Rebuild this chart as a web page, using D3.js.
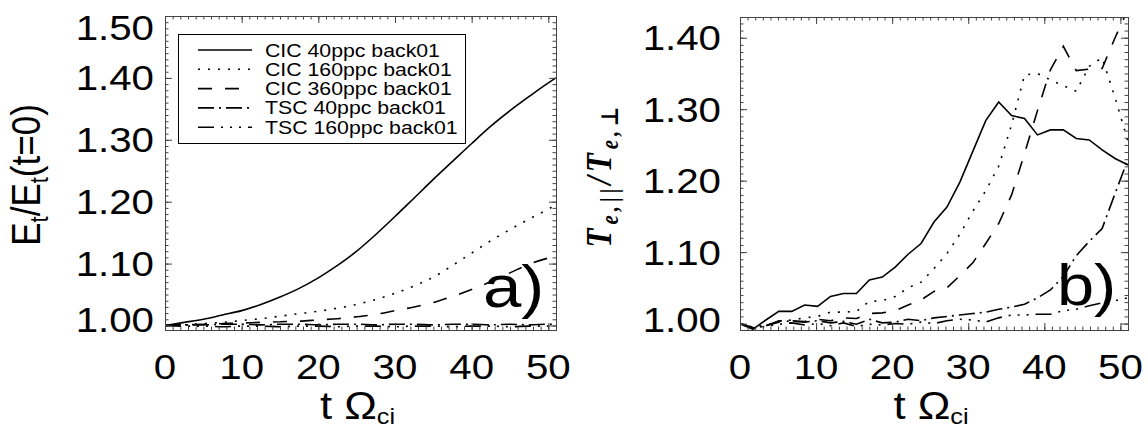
<!DOCTYPE html>
<html>
<head>
<meta charset="utf-8">
<script src="https://cdn.jsdelivr.net/npm/d3@7"></script>
<style>
  body { margin: 0; background: #fff; }
  svg { display: block; }
  text { font-family: "Liberation Sans", Arial, Helvetica, sans-serif; fill: #000; }
</style>
</head>
<body>
<svg id="chart" width="1148" height="426"></svg>
<script>
// ---- Panel a): total energy normalised to its initial value ----
const tEnergy = [0, 2.5, 5, 7.5, 10, 12.5, 15, 17.5, 20, 22.5, 25, 27.5, 30, 32.5, 35, 37.5, 40, 42.5, 45, 47.5, 50, 51];
const energyCIC40  = [1.000, 1.005, 1.010, 1.017, 1.024, 1.034, 1.046, 1.060, 1.077, 1.097, 1.120, 1.147, 1.176, 1.206, 1.236, 1.265, 1.294, 1.322, 1.347, 1.370, 1.392, 1.400];
const energyCIC160 = [1.000, 1.001, 1.003, 1.005, 1.008, 1.011, 1.015, 1.019, 1.023, 1.028, 1.034, 1.042, 1.052, 1.064, 1.078, 1.097, 1.117, 1.137, 1.155, 1.172, 1.188, 1.195];
const energyCIC360 = [1.000, 1.001, 1.002, 1.003, 1.004, 1.005, 1.006, 1.007, 1.009, 1.011, 1.014, 1.018, 1.024, 1.030, 1.037, 1.047, 1.058, 1.071, 1.085, 1.099, 1.109, 1.112];
const energyTSC40  = [1.000, 1.001, 1.001, 1.002, 1.002, 1.001, 1.002, 1.002, 1.001, 1.002, 1.002, 1.001, 1.002, 1.002, 1.001, 1.002, 1.002, 1.001, 1.002, 1.001, 1.002, 1.002];
const energyTSC160 = [1.000, 0.999, 0.999, 0.998, 0.999, 0.999, 0.998, 0.999, 0.999, 0.998, 0.999, 0.999, 0.998, 0.999, 0.999, 0.998, 0.999, 0.999, 0.998, 0.999, 0.999, 0.999];

// ---- Panel b): electron temperature anisotropy ----
const tAniso = [0, 1.7, 3.4, 5.1, 6.8, 8.5, 10.2, 11.9, 13.6, 15.3, 17.0, 18.7, 20.4, 22.1, 23.8, 25.5, 27.2, 28.9, 30.6, 32.3, 34.0, 35.7, 37.4, 39.1, 40.8, 42.5, 44.2, 45.9, 47.6, 49.3, 51.0];
const anisoCIC40  = [1.000, 0.992, 1.005, 1.017, 1.017, 1.026, 1.024, 1.038, 1.042, 1.042, 1.061, 1.065, 1.079, 1.097, 1.112, 1.142, 1.163, 1.198, 1.241, 1.284, 1.310, 1.291, 1.287, 1.264, 1.271, 1.271, 1.259, 1.257, 1.243, 1.231, 1.222];
const anisoCIC160 = [1.000, 0.995, 0.998, 1.003, 1.005, 1.008, 1.010, 1.016, 1.016, 1.017, 1.031, 1.032, 1.038, 1.050, 1.058, 1.077, 1.098, 1.125, 1.157, 1.186, 1.220, 1.278, 1.348, 1.350, 1.341, 1.333, 1.325, 1.360, 1.372, 1.316, 1.255];
const anisoCIC360 = [1.000, 0.994, 0.997, 1.002, 1.004, 1.003, 1.006, 1.004, 1.008, 1.007, 1.014, 1.015, 1.018, 1.026, 1.033, 1.045, 1.050, 1.067, 1.085, 1.112, 1.140, 1.180, 1.238, 1.298, 1.355, 1.388, 1.354, 1.356, 1.357, 1.400, 1.440];
const anisoTSC40  = [1.000, 0.993, 0.997, 1.004, 1.003, 1.002, 1.004, 1.001, 1.003, 0.999, 1.006, 1.001, 1.002, 1.006, 1.004, 1.008, 1.010, 1.012, 1.014, 1.016, 1.020, 1.023, 1.027, 1.036, 1.047, 1.066, 1.095, 1.115, 1.133, 1.182, 1.230];
const anisoTSC160 = [1.000, 0.994, 0.996, 0.999, 1.001, 0.998, 1.000, 0.997, 1.001, 0.996, 0.999, 0.998, 1.000, 0.999, 1.002, 1.000, 1.004, 1.006, 1.005, 1.002, 1.008, 1.012, 1.012, 1.013, 1.013, 1.018, 1.020, 1.025, 1.029, 1.032, 1.036];

const runLabels = ["CIC 40ppc back01", "CIC 160ppc back01", "CIC 360ppc back01", "TSC 40ppc back01", "TSC 160ppc back01"];
const lineDashes = [null, "2,8", "14,13", "16,5,2,5", "16,7,2,7,2,7,2,7"];
const timeTicks = [0, 10, 20, 30, 40, 50];
const energyTicks = [1.0, 1.1, 1.2, 1.3, 1.4, 1.5];
const anisoTicks = [1.0, 1.1, 1.2, 1.3, 1.4];

const svg = d3.select("#chart");
svg.append("rect").attr("width", 1148).attr("height", 426).attr("fill", "#fff");

const SX = 1.15;            // wide glyph proportions of the figure lettering
const axisColor = "#444";
const fmt = d3.format(".2f");

function label(parent, x, y, str, size, anchor, extra) {
  const t = parent.append("text")
    .attr("transform", `translate(${x},${y}) scale(${SX},1)${extra || ""}`)
    .attr("font-size", size)
    .attr("text-anchor", anchor || "start");
  if (str !== null) t.text(str);
  return t;
}

function drawPanel(cfg) {
  const x = d3.scaleLinear().domain([0, 51]).range([cfg.left, cfg.right]);
  const y = d3.scaleLinear().domain(cfg.yDomain).range([cfg.bottom, cfg.top]);
  const g = svg.append("g");

  const clipId = "clip-" + cfg.id;
  svg.append("clipPath").attr("id", clipId).append("rect")
    .attr("x", cfg.left).attr("y", cfg.top)
    .attr("width", cfg.right - cfg.left).attr("height", cfg.bottom - cfg.top);

  const line = d3.line().x(d => x(d[0])).y(d => y(d[1])).curve(cfg.curve);
  const lines = g.append("g").attr("clip-path", `url(#${clipId})`);
  cfg.series.forEach((vals, i) => {
    lines.append("path")
      .datum(cfg.t.map((t, j) => [t, vals[j]]))
      .attr("d", line)
      .attr("fill", "none")
      .attr("stroke", "#000")
      .attr("stroke-width", 1.6)
      .attr("stroke-dasharray", lineDashes[i]);
  });

  // frame
  g.append("rect")
    .attr("x", cfg.left + 0.5).attr("y", cfg.top + 0.5)
    .attr("width", cfg.right - cfg.left).attr("height", cfg.bottom - cfg.top)
    .attr("fill", "none").attr("stroke", axisColor).attr("stroke-width", 1);

  // inward ticks on all four sides
  const minorX = x.ticks(51);
  const minorY = y.ticks(cfg.minorCount);
  const sides = [
    [() => d3.axisBottom(x), `translate(0,${cfg.bottom})`, minorX, timeTicks],
    [() => d3.axisTop(x), `translate(0,${cfg.top})`, minorX, timeTicks],
    [() => d3.axisLeft(y), `translate(${cfg.left},0)`, minorY, cfg.yTicks],
    [() => d3.axisRight(y), `translate(${cfg.right},0)`, minorY, cfg.yTicks]
  ];
  sides.forEach(([mk, tr, minor, major]) => {
    [[minor, 3.5], [major, 7]].forEach(([vals, len]) => {
      g.append("g").attr("transform", tr).attr("color", axisColor)
        .call(mk().tickValues(vals).tickSize(-len).tickFormat(""))
        .call(a => a.select(".domain").remove())
        .call(a => a.selectAll("text").remove());
    });
  });

  // tick labels
  timeTicks.forEach(v => label(g, x(v), 379, String(v), 35, "middle"));
  cfg.yTicks.forEach(v => {
    const cy = Math.min(Math.max(y(v), cfg.top + 11), cfg.bottom - 11);
    label(g, cfg.left - cfg.labelGap, cy + 12.5, fmt(v), 35, "end");
  });

  // x title
  const xt = label(g, (cfg.left + cfg.right) / 2 - 3, 419, null, 38, "middle");
  xt.append("tspan").text("t \u03A9");
  xt.append("tspan").attr("font-size", 22).attr("dy", 5).text("ci");

  return { x, y, g };
}

// ---- panel a)
const pa = drawPanel({
  id: "energy", left: 165, right: 556, top: 16, bottom: 330,
  yDomain: [0.9927, 1.5], yTicks: energyTicks, minorCount: 50, labelGap: 11,
  t: tEnergy, curve: d3.curveMonotoneX,
  series: [energyCIC40, energyCIC160, energyCIC360, energyTSC40, energyTSC160]
});

// y title a)
const yta = label(pa.g, 40, 175, null, 35, "middle", " rotate(-90)");
yta.append("tspan").text("E");
yta.append("tspan").attr("font-size", 22).attr("dy", 7).text("t");
yta.append("tspan").attr("dy", -7).text("/E");
yta.append("tspan").attr("font-size", 22).attr("dy", 7).text("t");
yta.append("tspan").attr("dy", -7).text("(t=0)");

// legend
const leg = pa.g.append("g");
leg.append("rect").attr("x", 178.5).attr("y", 34.5).attr("width", 287).attr("height", 109)
  .attr("fill", "#fff").attr("stroke", "#000").attr("stroke-width", 1);
runLabels.forEach((name, i) => {
  const by = 56.5 + i * 19.3;
  leg.append("line").attr("x1", 198).attr("x2", 252).attr("y1", by - 6.5).attr("y2", by - 6.5)
    .attr("stroke", "#000").attr("stroke-width", 1.6).attr("stroke-dasharray", lineDashes[i]);
  label(leg, 265, by, name, 18.5, "start");
});

label(pa.g, 483, 307, "a)", 60, "start");

// ---- panel b)
const pb = drawPanel({
  id: "aniso", left: 740, right: 1128, top: 17, bottom: 330,
  yDomain: [0.991, 1.429], yTicks: anisoTicks, minorCount: 44, labelGap: 19,
  t: tAniso, curve: d3.curveLinear,
  series: [anisoCIC40, anisoCIC160, anisoCIC360, anisoTSC40, anisoTSC160]
});

// y title b)
const ytb = pb.g.append("text")
  .attr("transform", `translate(611,177) scale(${SX},1) rotate(-90)`)
  .attr("text-anchor", "middle")
  .attr("font-size", 31)
  .attr("font-weight", "bold")
  .attr("font-style", "italic")
  .style("font-family", "'Liberation Serif', 'DejaVu Serif', serif")
  .attr("textLength", 141)
  .attr("lengthAdjust", "spacing");
ytb.append("tspan").text("T");
ytb.append("tspan").attr("font-size", 21).attr("dy", 6).text("e,||");
ytb.append("tspan").attr("dy", -6).text("/T");
ytb.append("tspan").attr("font-size", 21).attr("dy", 6).text("e,\u22A5");

label(pb.g, 1057, 305, "b)", 58, "start");
</script>
</body>
</html>
